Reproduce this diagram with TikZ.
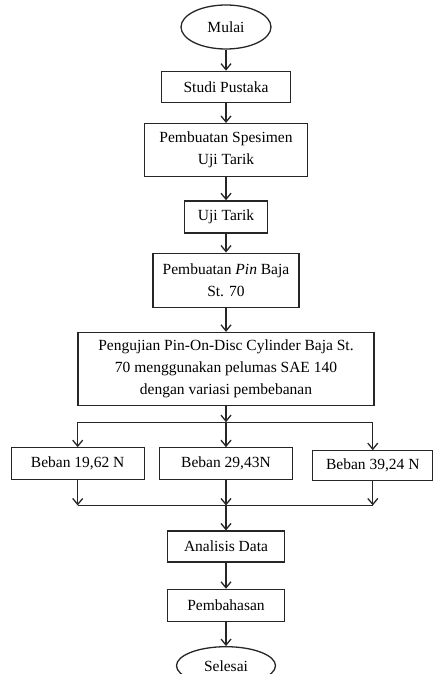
\documentclass[tikz,border=0pt]{standalone}
\usepackage{fontspec}
\setmainfont{Liberation Serif}
\usetikzlibrary{positioning,shapes.geometric,arrows.meta}

\begin{document}
\begin{tikzpicture}[
		font=\fontsize{15.5}{22}\selectfont,
		kotak/.style={draw=black!85,line width=1.3pt,inner sep=0pt,align=center},
		oval/.style={ellipse,draw=black!85,line width=1.3pt,inner sep=0pt},
		panah/.style={-{Straight Barb[length=6pt,width=10pt]},line width=1.3pt,draw=black!85},
		garis/.style={line width=1.3pt,draw=black!85}]
		\useasboundingbox (0,0) rectangle (433pt,-674pt);
		
		\node[oval,minimum width=90pt,minimum height=44pt] (mulai) at (226pt,-27pt) {Mulai};
		
		\node[kotak,below=21pt of mulai,minimum width=129pt,minimum height=31pt] (studi) {Studi Pustaka};
		
		\node[kotak,below=20pt of studi,minimum width=163pt,minimum height=53pt] (spes) {Pembuatan Spesimen\\Uji Tarik};
		
		\node[kotak,below=23pt of spes,minimum width=83pt,minimum height=32pt] (tarik) {Uji Tarik};
		
		\node[kotak,below=19pt of tarik,minimum width=146pt,minimum height=54pt] (pin) {Pembuatan \textit{Pin} Baja\\St. 70};
		
		\node[kotak,below=24pt of pin,minimum width=296pt,minimum height=73pt] (uji) {Pengujian Pin-On-Disc Cylinder Baja St.\\70 menggunakan pelumas SAE 140\\dengan variasi pembebanan};
		
		\node[kotak,below=41pt of uji,minimum width=133pt,minimum height=32pt] (b2) {Beban 29,43N};
		\node[kotak,left=14pt of b2,minimum width=133pt,minimum height=32pt] (b1) {Beban 19,62 N};
		\node[kotak,right=19pt of b2,yshift=-2pt,minimum width=120pt,minimum height=30pt] (b3) {Beban 39,24 N};
		
		\coordinate[below=16pt of uji] (cabang);
		\coordinate[below=25pt of b2] (gabung);
		
		\node[kotak,below=50pt of b2,minimum width=117pt,minimum height=31pt] (analisis) {Analisis Data};
		
		\node[kotak,below=26pt of analisis,minimum width=117pt,minimum height=32pt] (bahas) {Pembahasan};
		
		\node[oval,below=24pt of bahas,minimum width=99pt,minimum height=38pt] (selesai) {Selesai};
		
		\draw[panah] (mulai)--(studi);
		\draw[panah] (studi)--(spes);
		\draw[panah] (spes)--(tarik);
		\draw[panah] (tarik)--(pin);
		\draw[panah] (pin)--(uji);
		
		\draw[panah] (uji)--(cabang);
		\draw[garis] (cabang -| b1)--(cabang -| b3);
		\draw[panah] (cabang)--(b2);
		\draw[panah] (cabang -| b1)--(b1);
		\draw[panah] (cabang -| b3)--(b3);
		
		\draw[panah] (b1.south)--(b1.south |- gabung);
		\draw[panah] (b2.south)--(gabung);
		\draw[panah] (b3.south)--(b3.south |- gabung);
		\draw[garis] (b1.south |- gabung)--(b3.south |- gabung);
		
		\draw[panah] (gabung)--(analisis);
		\draw[panah] (analisis)--(bahas);
		\draw[panah] (bahas)--(selesai);
	\end{tikzpicture}
\end{document}
